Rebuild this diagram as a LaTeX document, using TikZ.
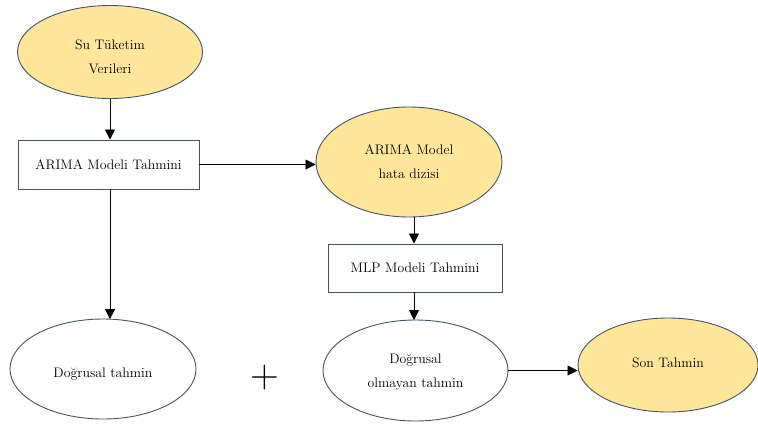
\documentclass[tikz,border=0pt]{standalone}
\usepackage{fontspec}
\usetikzlibrary{shapes.geometric,arrows.meta}
\definecolor{yell}{HTML}{FFE699}
\definecolor{edge}{HTML}{44546A}
\begin{document}
\begin{tikzpicture}[x=1pt,y=-1pt,
  every node/.style={font=\rmfamily\fontsize{13.8}{24}\selectfont, text=black, align=center},
  ell/.style={ellipse, draw=edge, line width=0.9pt, inner sep=0pt},
  yel/.style={ell, fill=yell},
  wht/.style={ell, fill=white},
  boxx/.style={rectangle, draw=edge, line width=0.9pt, fill=white, inner sep=0pt},
  conn/.style={line width=0.8pt, -{Triangle[length=10pt,width=10pt]}}]
\useasboundingbox (0,0) rectangle (758,426);
\fill[white] (0,0) rectangle (758,426);
\node[yel, minimum width=185pt, minimum height=93pt,
  label={[yshift=-4.5pt]center:Su Tüketim\\Verileri}] (su) at (110,52) {};
\node[boxx, minimum width=181pt, minimum height=49pt] (arima) at (108.5,164.5) {ARIMA Modeli Tahmini};
\node[yel, minimum width=186pt, minimum height=110pt] (hata) at (409,162) {ARIMA Model\\hata dizisi};
\node[boxx, minimum width=174pt, minimum height=48pt] (mlp) at (415,268) {MLP Modeli Tahmini};
\node[wht, minimum width=186pt, minimum height=100pt,
  label={[yshift=-5pt]center:Doğrusal tahmin}] (dog) at (103,369) {};
\node[wht, minimum width=185pt, minimum height=101pt,
  label={[yshift=-2pt]center:Doğrusal\\olmayan tahmin}] (dogo) at (415.5,370.5) {};
\node[yel, minimum width=180pt, minimum height=94pt,
  label={[yshift=2.5pt]center:Son Tahmin}] (son) at (668,365) {};
\node[font=\rmfamily\fontsize{40}{40}\selectfont] (plus) at (265,378) {+};
\draw[conn] (su.south -| 110,0) -- (arima.north -| 110,0);
\draw[conn] (arima.east) -- (hata.west |- arima.east);
\draw[conn] (414,217) coordinate (h1) -- (mlp.north -| h1);
\draw[conn] (arima.south -| 110,0) -- (110,319);
\draw[conn] (mlp.south -| 414,0) -- (414,320);
\draw[conn] (dogo.east) -- (son.west |- dogo.east);
\end{tikzpicture}
\end{document}
